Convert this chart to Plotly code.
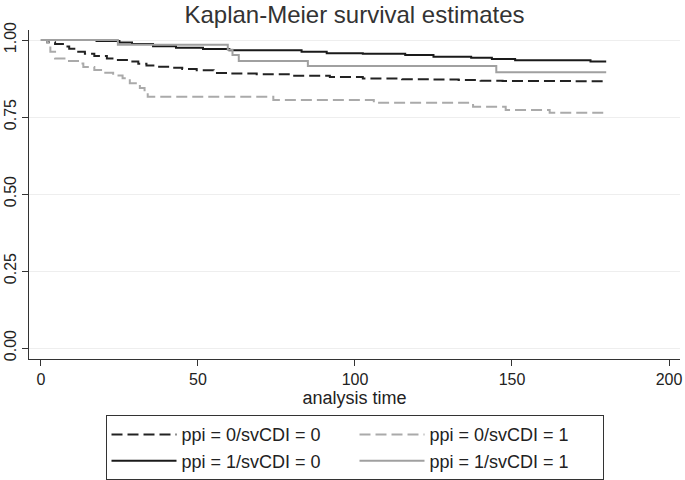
import plotly.graph_objects as go

# ppi = 0 / svCDI = 0
t00 = [0, 2, 4.5, 7, 9, 11.4, 14, 17, 21, 24, 28, 31, 33.6, 37, 41, 45, 49.6, 55, 60, 68.7, 80, 92, 102.5, 115, 125, 133, 140, 147, 170, 180]
s00 = [1, 0.993, 0.987, 0.979, 0.972, 0.962, 0.955, 0.948, 0.940, 0.935, 0.930, 0.923, 0.917, 0.913, 0.910, 0.906, 0.902, 0.893, 0.891, 0.889, 0.884, 0.880, 0.875, 0.873, 0.872, 0.870, 0.868, 0.867, 0.866, 0.865]
# ppi = 0 / svCDI = 1
t01 = [0, 2, 3, 4.5, 8, 12.4, 13.5, 17, 19.8, 23, 26, 28.3, 31.5, 33, 34, 74, 106, 137.6, 148, 162, 180]
s01 = [1, 0.992, 0.962, 0.940, 0.932, 0.924, 0.912, 0.903, 0.894, 0.885, 0.876, 0.860, 0.844, 0.830, 0.816, 0.805, 0.796, 0.783, 0.773, 0.764, 0.764]
# ppi = 1 / svCDI = 0
t10 = [0, 17.7, 25, 29, 35.7, 43, 51.6, 60, 83, 91, 102.5, 116, 125, 137, 143.6, 151, 175, 180]
s10 = [1, 0.997, 0.992, 0.987, 0.980, 0.975, 0.971, 0.967, 0.962, 0.957, 0.955, 0.951, 0.946, 0.942, 0.938, 0.934, 0.930, 0.930]
# ppi = 1 / svCDI = 1
t11 = [0, 24.5, 59.5, 61, 63, 85, 145, 180]
s11 = [1, 0.985, 0.968, 0.951, 0.932, 0.916, 0.895, 0.895]

names = ["ppi = 0/svCDI = 0", "ppi = 0/svCDI = 1", "ppi = 1/svCDI = 0", "ppi = 1/svCDI = 1"]
xticks = [0, 50, 100, 150, 200]
yticks = [0, 0.25, 0.5, 0.75, 1.0]
ytick_labels = ["0.00", "0.25", "0.50", "0.75", "1.00"]

series = [
    (t00, s00, names[0], "#222222", "11px,5px"),
    (t01, s01, names[1], "#aaaaaa", "11px,5px"),
    (t10, s10, names[2], "#1a1a1a", "solid"),
    (t11, s11, names[3], "#a0a0a0", "solid"),
]

fig = go.Figure()
for t, s, n, c, d in series:
    fig.add_trace(go.Scatter(x=t, y=s, name=n, mode="lines",
                             line=dict(shape="hv", color=c, width=2, dash=d)))

FONT = "Liberation Sans, Arial, sans-serif"
fig.update_layout(
    width=685, height=480,
    margin=dict(l=29, r=5, t=30, b=121, autoexpand=False),
    paper_bgcolor="white", plot_bgcolor="white",
    font=dict(family=FONT, size=16, color="#222222"),
    title=dict(text="Kaplan-Meier survival estimates", x=0.5, xref="paper", xanchor="center",
               y=0.969, yref="container", yanchor="middle",
               font=dict(size=24, color="#333333")),
    showlegend=True,
    legend=dict(orientation="h", x=0.5, xanchor="center", y=-0.171, yanchor="top",
                bordercolor="#333333", borderwidth=1, entrywidth=168,
                itemwidth=65, font=dict(size=18, color="#222222"),
                traceorder="normal", tracegroupgap=0),
    xaxis=dict(range=[-3.8, 203.5], tickvals=xticks, ticks="outside", ticklen=6,
               tickcolor="#333333", showline=True, linecolor="#333333", linewidth=1,
               showgrid=False, zeroline=False, automargin=False,
               ticklabeloverflow="allow",
               title=dict(text="analysis time", standoff=2, font=dict(size=18))),
    yaxis=dict(range=[-0.0357, 1.0325], tickvals=yticks, ticktext=ytick_labels,
               tickangle=-90, ticks="outside", ticklen=6, tickcolor="#333333",
               showline=True, linecolor="#333333", linewidth=1, automargin=False,
               ticklabeloverflow="allow",
               showgrid=True, gridcolor="#eeeeee", gridwidth=1, zeroline=False),
)
fig.write_html("out.html", config={"displayModeBar": False},
               post_script="document.body.style.margin='0px';")
